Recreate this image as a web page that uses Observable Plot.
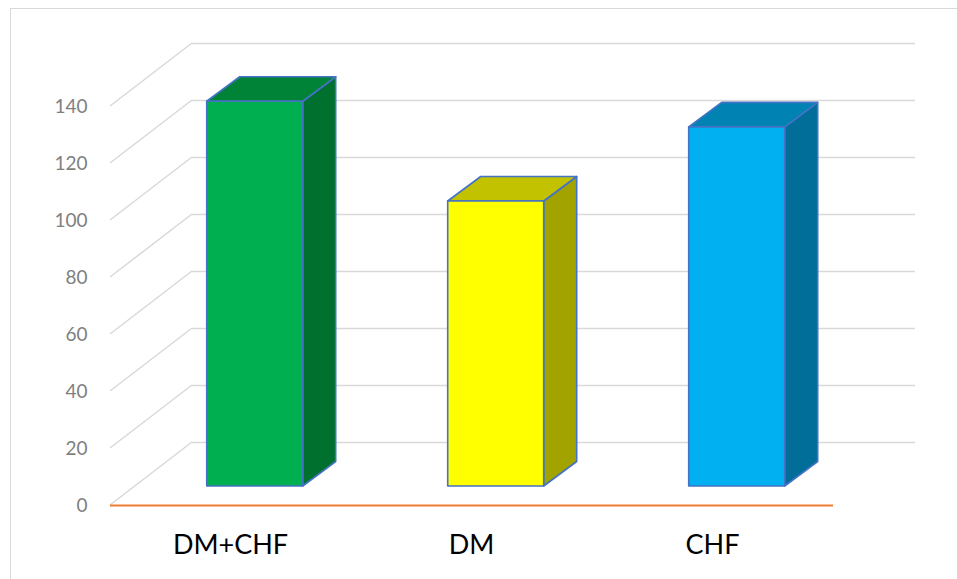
<!DOCTYPE html>
<html>
<head>
<meta charset="utf-8">
<script src="https://cdn.jsdelivr.net/npm/d3@7"></script>
<script src="https://cdn.jsdelivr.net/npm/@observablehq/plot@0.6"></script>
<style>
  html, body { margin: 0; padding: 0; background: #fff; overflow: hidden; }
  #wrap { position: relative; width: 957px; height: 579px; overflow: hidden; }
  #frame { position: absolute; left: 10px; top: 8px; width: 1000px; height: 700px;
           border: 1.5px solid #d9d9d9; box-sizing: border-box; }
  #chart { position: absolute; left: 0; top: 0; }
</style>
</head>
<body>
<div id="wrap"><div id="frame"></div><div id="chart"></div></div>
<script>
// ---- data ----
const categories = ["DM+CHF", "DM", "CHF"];
const values = [135, 100, 126];
const yTicks = [0, 20, 40, 60, 80, 100, 120, 140];

// ---- style palettes (per category) ----
const frontColors = ["#00B050", "#FFFF00", "#00B0F0"];
const topColors   = ["#008237", "#C2C200", "#0083B3"];
const sideColors  = ["#00702F", "#A3A300", "#006E99"];

const data = categories.map((c, i) => ({cat: c, value: values[i]}));

// oblique projection offsets
const WALL = [82, -63];        // front plane -> back wall
const BAR_FRONT = [24.7, -19]; // front plane -> bar front face
const BAR_DEPTH = [33, -24.5]; // bar depth

const gridColor = "#d9d9d9";
const outline = "#4472C4";

function barsRender(index, scales, vals, dims) {
  const g = d3.create("svg:g");
  const bw = scales.x.bandwidth ? scales.x.bandwidth() : 96;
  for (const i of index) {
    const ci = categories.indexOf(data[i].cat);
    const xl = vals.x[i] + BAR_FRONT[0], xr = xl + bw;
    const ya = vals.y1[i], yb = vals.y2[i];
    const yt = Math.min(ya, yb) + BAR_FRONT[1], ybot = Math.max(ya, yb) + BAR_FRONT[1];
    const [bx, by] = BAR_DEPTH;
    const poly = (pts, fill) => g.append("polygon")
      .attr("points", pts.map(p => p.join(",")).join(" "))
      .attr("fill", fill).attr("stroke", outline).attr("stroke-width", 1.6)
      .attr("stroke-linejoin", "round");
    poly([[xr, yt], [xr + bx, yt + by], [xr + bx, ybot + by], [xr, ybot]], sideColors[ci]);
    poly([[xl, yt], [xr, yt], [xr + bx, yt + by], [xl + bx, yt + by]], topColors[ci]);
    poly([[xl, yt], [xr, yt], [xr, ybot], [xl, ybot]], frontColors[ci]);
  }
  return g.node();
}

function diagRender(index, scales, vals, dims) {
  const g = d3.create("svg:g");
  const x0 = dims.marginLeft;
  for (const i of index) {
    const y = vals.y[i];
    g.append("line")
      .attr("x1", x0).attr("y1", y)
      .attr("x2", x0 + WALL[0]).attr("y2", y + WALL[1])
      .attr("stroke", gridColor).attr("stroke-width", 1.5);
  }
  return g.node();
}

const chart = Plot.plot({
  width: 957,
  height: 579,
  marginLeft: 110,
  marginRight: 124,
  marginTop: 106,
  marginBottom: 74,
  style: { fontFamily: "Lato, 'Open Sans', sans-serif", background: "transparent" },
  x: { type: "band", domain: categories, paddingInner: 0.6, paddingOuter: 0.3, label: null },
  y: { domain: [0, 140], label: null },
  marks: [
    Plot.ruleY(yTicks, { dx: WALL[0], dy: WALL[1], stroke: gridColor, strokeWidth: 1.5 }),
    Plot.ruleY(yTicks, { render: diagRender }),
    Plot.ruleY([0], { stroke: "#ED7D31", strokeWidth: 2 }),
    Plot.barY(data, { x: "cat", y: "value", render: barsRender }),
    Plot.axisY({ ticks: yTicks, tickSize: 0, tickPadding: 23, fontSize: 19, color: "#7f7f7f", label: null, tickFormat: d => d }),
    Plot.axisX({ tickSize: 0, tickPadding: 29, fontSize: 27, color: "#000", label: null })
  ]
});
document.getElementById("chart").appendChild(chart);
</script>
</body>
</html>
